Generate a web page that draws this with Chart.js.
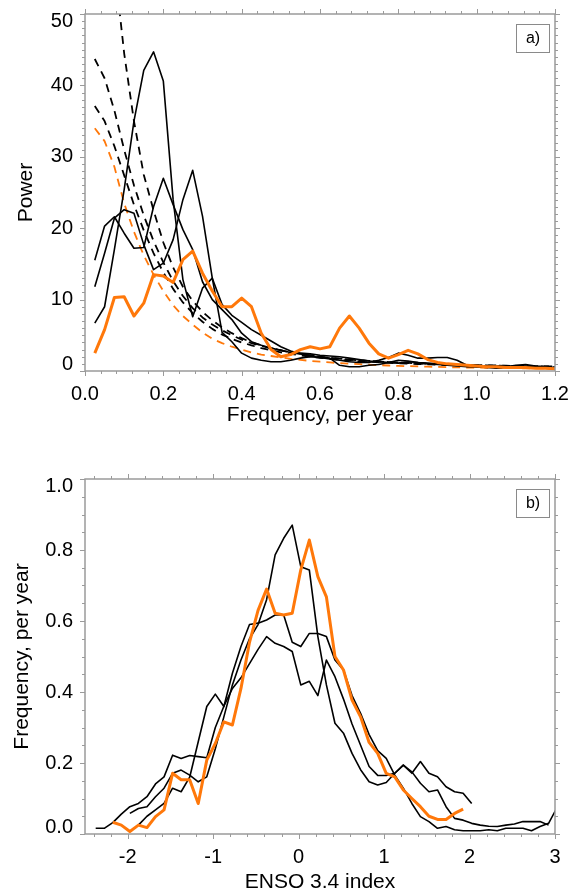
<!DOCTYPE html>
<html>
<head>
<meta charset="utf-8">
<script src="https://cdn.jsdelivr.net/npm/chart.js@4.4.1/dist/chart.umd.min.js"></script>
<style>
  body { margin: 0; background: #fff; }
  #wrap { position: relative; width: 572px; height: 896px; }
  canvas { position: absolute; left: 0; }
</style>
</head>
<body>
<div id="wrap">
  <canvas id="powerChart" width="572" height="448" style="top:0"></canvas>
  <canvas id="histChart" width="572" height="448" style="top:448px"></canvas>
</div>
<script>
// ---- panel a: power spectra ----
const freqs = [0.025, 0.05, 0.075, 0.1, 0.125, 0.15, 0.175, 0.2, 0.225, 0.25, 0.275, 0.3,
  0.325, 0.35, 0.375, 0.4, 0.425, 0.45, 0.475, 0.5, 0.525, 0.55, 0.575, 0.6,
  0.625, 0.65, 0.675, 0.7, 0.725, 0.75, 0.775, 0.8, 0.825, 0.85, 0.875, 0.9,
  0.925, 0.95, 0.975, 1.0, 1.025, 1.05, 1.075, 1.1, 1.125, 1.15, 1.175, 1.2];

const powerObs = [2.5, 5.8, 10.3, 10.4, 7.7, 9.5, 13.5, 13.3, 12.4, 15.6, 16.8, 13.7,
  11.2, 9.0, 9.0, 10.2, 9.0, 5.3, 3.0, 2.0, 2.3, 3.0, 3.4, 3.1,
  3.4, 6.0, 7.7, 6.0, 3.9, 2.4, 1.8, 2.3, 2.9, 2.4, 1.6, 1.2,
  1.0, 0.9, 0.8, 0.7, 0.6, 0.6, 0.5, 0.5, 0.5, 0.4, 0.4, 0.3];
const powerModel1 = [6.7, 9.0, 17.0, 25.4, 35.0, 42.1, 44.7, 40.6, 24.0, 12.8, 7.6, 11.6,
  13.0, 9.3, 7.8, 6.8, 5.8, 5.0, 4.2, 3.4, 2.8, 2.4, 2.1, 1.9,
  1.7, 1.5, 1.3, 1.2, 1.2, 1.5, 1.9, 2.5, 2.2, 1.8, 1.8, 1.9,
  1.9, 1.5, 0.8, 0.6, 0.6, 0.5, 0.6, 0.7, 0.7, 0.6, 0.5, 0.4];
const powerModel2 = [11.8, 16.5, 21.4, 22.6, 22.1, 17.7, 14.2, 15.1, 18.4, 24.0, 28.1, 21.7,
  13.0, 5.4, 4.1, 2.5, 1.8, 1.5, 1.3, 1.3, 1.5, 1.8, 2.0, 1.9,
  1.8, 0.8, 0.6, 0.6, 0.8, 0.9, 1.2, 1.5, 1.4, 1.2, 1.1, 1.0,
  0.9, 0.8, 0.7, 0.6, 0.5, 0.4, 0.5, 0.6, 0.5, 0.5, 0.4, 0.3];
const powerModel3 = [15.5, 20.3, 21.6, 19.3, 17.2, 17.3, 23.0, 27.0, 23.3, 19.8, 17.0, 12.5,
  10.0, 8.6, 7.2, 5.3, 4.1, 3.6, 3.2, 2.9, 2.6, 2.5, 2.4, 2.2,
  2.1, 2.0, 1.8, 1.6, 1.4, 1.3, 1.2, 1.1, 1.3, 1.2, 1.0, 0.9,
  0.8, 0.7, 0.6, 0.6, 0.7, 0.7, 0.6, 0.8, 0.9, 0.7, 0.6, 0.5];

// red-noise fits (dashed)
const noiseObs = [34.0, 32.2, 28.6, 23.5, 19.5, 16.2, 13.5, 11.2, 9.2, 7.7, 6.5, 5.4,
  4.5, 3.9, 3.4, 3.0, 2.6, 2.3, 2.1, 1.9, 1.7, 1.55, 1.42, 1.3,
  1.2, 1.1, 1.02, 0.95, 0.88, 0.82, 0.77, 0.72, 0.68, 0.64, 0.6, 0.57,
  0.54, 0.51, 0.49, 0.47, 0.45, 0.43, 0.41, 0.4, 0.38, 0.37, 0.36, 0.35];
const noiseModel1 = [82, 70, 57, 44.5, 35, 27.5, 22.5, 18, 14.5, 11.8, 9.8, 8.3,
  7.1, 6.1, 5.3, 4.6, 4.0, 3.6, 3.2, 2.9, 2.6, 2.4, 2.2, 2.0,
  1.85, 1.72, 1.6, 1.5, 1.41, 1.33, 1.26, 1.19, 1.13, 1.08, 1.03, 0.98,
  0.94, 0.9, 0.86, 0.83, 0.8, 0.77, 0.74, 0.72, 0.7, 0.68, 0.66, 0.64];
const noiseModel2 = [43.7, 41.0, 36.5, 31.0, 26.0, 21.8, 18.2, 15.2, 12.6, 10.5, 8.8, 7.5,
  6.5, 5.7, 5.0, 4.4, 3.9, 3.5, 3.2, 2.9, 2.6, 2.4, 2.2, 2.0,
  1.85, 1.72, 1.6, 1.5, 1.4, 1.32, 1.25, 1.18, 1.12, 1.06, 1.01, 0.96,
  0.92, 0.88, 0.84, 0.81, 0.78, 0.75, 0.72, 0.7, 0.68, 0.66, 0.64, 0.62];
const noiseModel3 = [37.1, 35.0, 31.5, 27.4, 23.3, 19.7, 16.5, 13.8, 11.5, 9.6, 8.1, 6.9,
  5.9, 5.1, 4.5, 4.0, 3.6, 3.2, 2.9, 2.6, 2.4, 2.2, 2.0, 1.85,
  1.7, 1.58, 1.47, 1.37, 1.29, 1.21, 1.14, 1.08, 1.02, 0.97, 0.92, 0.88,
  0.84, 0.8, 0.77, 0.74, 0.71, 0.68, 0.66, 0.64, 0.62, 0.6, 0.58, 0.56];

const freqTicks = [0, 0.2, 0.4, 0.6, 0.8, 1.0, 1.2];
const powerTicks = [0, 10, 20, 30, 40, 50];

// ---- panel b: ENSO 3.4 distributions ----
const ensoBins = [-2.375, -2.275, -2.175, -2.075, -1.975, -1.875, -1.775, -1.675, -1.575, -1.475,
  -1.375, -1.275, -1.175, -1.075, -0.975, -0.875, -0.775, -0.675, -0.575, -0.475,
  -0.375, -0.275, -0.175, -0.075, 0.025, 0.125, 0.225, 0.325, 0.425, 0.525,
  0.625, 0.725, 0.825, 0.925, 1.025, 1.125, 1.225, 1.325, 1.425, 1.525,
  1.625, 1.725, 1.825, 1.925, 2.025, 2.125, 2.225, 2.325, 2.425, 2.525,
  2.625, 2.725, 2.825, 2.925, 3.025];

const ensoObs = [null, null, 0.033, 0.025, 0.007, 0.025, 0.018, 0.049, 0.068, 0.171,
  0.153, 0.153, 0.086, 0.208, 0.255, 0.316, 0.307, 0.41, 0.54, 0.63,
  0.69, 0.622, 0.617, 0.622, 0.744, 0.828, 0.725, 0.668, 0.50, 0.462,
  0.377, 0.33, 0.258, 0.227, 0.171, 0.161, 0.124, 0.100, 0.077, 0.050,
  0.041, 0.041, 0.058, 0.070, null, null, null, null, null, null,
  null, null, null, null, null];
const ensoModel1 = [0.016, 0.016, 0.032, 0.056, 0.077, 0.086, 0.105, 0.141, 0.161, 0.222,
  0.213, 0.221, 0.218, 0.215, 0.30, 0.36, 0.41, 0.44, 0.48, 0.52,
  0.556, 0.537, 0.528, 0.514, 0.42, 0.43, 0.39, 0.49, 0.443, 0.38,
  0.31, 0.25, 0.19, 0.165, 0.165, 0.171, 0.194, 0.175, 0.143, 0.119,
  0.124, 0.077, 0.044, 0.039, 0.03, 0.025, 0.022, 0.021, 0.025, 0.028,
  0.035, 0.035, 0.035, 0.025, null];
const ensoModel2 = [null, null, null, null, 0.058, 0.072, 0.077, 0.105, 0.129, 0.171,
  0.180, 0.166, 0.147, 0.161, 0.24, 0.33, 0.42, 0.49, 0.55, 0.59,
  0.66, 0.786, 0.833, 0.870, 0.753, 0.744, 0.556, 0.42, 0.312, 0.284,
  0.227, 0.181, 0.147, 0.138, 0.145, 0.171, 0.194, 0.171, 0.204, 0.171,
  0.161, 0.133, 0.119, 0.115, 0.086, null, null, null, null, null,
  null, null, null, null, null];
const ensoModel3 = [null, null, null, null, null, 0.025, 0.05, 0.068, 0.086, 0.129,
  0.119, 0.16, 0.26, 0.359, 0.394, 0.359, 0.453, 0.528, 0.590, 0.594,
  0.603, 0.617, 0.617, 0.54, 0.528, 0.565, 0.565, 0.556, 0.49, 0.462,
  0.39, 0.34, 0.28, 0.235, 0.213, 0.166, 0.129, 0.086, 0.049, 0.035,
  0.016, 0.021, 0.012, 0.009, 0.009, 0.009, 0.012, 0.009, 0.016, 0.016,
  0.016, 0.009, 0.021, 0.03, 0.075];

const ensoTicks = [-2, -1, 0, 1, 2, 3];
const densityTicks = [0, 0.2, 0.4, 0.6, 0.8, 1.0];

const ORANGE = 'rgb(255,120,10)';
const FONT = '"Liberation Sans", Arial, Helvetica, sans-serif';

const pairUp = (xs, ys) => xs.map((x, i) => ({ x: x, y: ys[i] })).filter(p => p.y !== null);

const lineSet = (xs, ys, color, width, dashed) => ({
  data: pairUp(xs, ys),
  borderColor: color,
  borderWidth: width,
  borderDash: dashed ? [8, 6] : [],
  borderJoinStyle: 'round',
  pointRadius: 0,
  tension: 0,
  fill: false,
  clip: 0
});

// IDL-like frame: gray box, outward ticks on all sides, y labels kept inside the box
const framePlugin = {
  id: 'frame',
  afterDraw(chart, args, o) {
    const { ctx, chartArea: a } = chart;
    const xs = chart.scales.x, ys = chart.scales.y;
    ctx.save();
    ctx.strokeStyle = '#9a9a9a';
    ctx.lineWidth = 1;

    const near = (list, v) => list.some(t => Math.abs(t - v) < 1e-6);

    let i0 = Math.ceil((xs.min - 1e-9) / o.minorX);
    for (let i = i0; i * o.minorX <= xs.max + 1e-9; i++) {
      const v = i * o.minorX;
      const px = Math.round(xs.getPixelForValue(v)) + 0.5;
      const len = near(o.majorX, v) ? 5 : 3;
      ctx.beginPath();
      ctx.moveTo(px, a.bottom); ctx.lineTo(px, a.bottom + len);
      ctx.moveTo(px, a.top); ctx.lineTo(px, a.top - len);
      ctx.stroke();
    }
    i0 = Math.ceil((ys.min - 1e-9) / o.minorY);
    for (let i = i0; i * o.minorY <= ys.max + 1e-9; i++) {
      const v = i * o.minorY;
      const py = Math.round(ys.getPixelForValue(v)) + 0.5;
      const len = near(o.majorY, v) ? 5 : 3;
      ctx.beginPath();
      ctx.moveTo(a.left, py); ctx.lineTo(a.left - len, py);
      ctx.moveTo(a.right, py); ctx.lineTo(a.right + len, py);
      ctx.stroke();
    }

    ctx.lineWidth = 1.5;
    ctx.strokeRect(a.left, a.top, a.right - a.left, a.bottom - a.top);

    // y tick labels
    ctx.fillStyle = '#000';
    ctx.font = '20px ' + FONT;
    ctx.textAlign = 'right';
    ctx.textBaseline = 'middle';
    o.majorY.forEach(v => {
      const py = ys.getPixelForValue(v);
      const cy = Math.min(Math.max(py, a.top + 7), a.bottom - 7);
      ctx.fillText(o.fmtY(v), a.left - 12, cy);
    });

    // panel tag
    const bw = 33, bh = 28;
    const bx = a.right - 39, by = a.top + 10;
    ctx.fillStyle = '#fff';
    ctx.fillRect(bx, by, bw, bh);
    ctx.strokeStyle = '#8a8a8a';
    ctx.lineWidth = 1;
    ctx.strokeRect(bx + 0.5, by + 0.5, bw, bh);
    ctx.fillStyle = '#000';
    ctx.font = '16px ' + FONT;
    ctx.textAlign = 'center';
    ctx.fillText(o.tag, bx + bw / 2 + 0.5, by + bh / 2 + 1);
    ctx.restore();
  }
};

function makeChart(id, c) {
  return new Chart(document.getElementById(id), {
    type: 'line',
    data: { datasets: c.datasets },
    plugins: [framePlugin],
    options: {
      responsive: false,
      animation: false,
      layout: { padding: { left: 0, right: 17, top: c.top, bottom: 0 } },
      plugins: {
        legend: { display: false },
        tooltip: { enabled: false },
        frame: c.frame
      },
      scales: {
        x: {
          type: 'linear',
          min: c.xMin,
          max: c.xMax,
          grid: { display: false, drawTicks: false },
          border: { display: false },
          afterBuildTicks: s => { s.ticks = c.xTicks.map(v => ({ value: v })); },
          afterFit: s => { s.height = c.xHeight; s.paddingLeft = 0; s.paddingRight = 0; },
          ticks: {
            color: '#000',
            padding: 11.5,
            maxRotation: 0,
            autoSkip: false,
            font: { family: FONT, size: 20 },
            callback: c.fmtX
          },
          title: {
            display: true,
            text: c.xTitle,
            color: '#000',
            font: { family: FONT, size: 21 },
            padding: { top: 0, bottom: c.xTitlePad }
          }
        },
        y: {
          type: 'linear',
          min: c.yMin,
          max: c.yMax,
          grid: { display: false, drawTicks: false },
          border: { display: false },
          afterFit: s => { s.width = 85; s.paddingTop = 0; s.paddingBottom = 0; },
          ticks: { display: false },
          title: {
            display: true,
            text: c.yTitle,
            color: '#000',
            font: { family: FONT, size: 21 },
            padding: { top: c.yTitlePad, bottom: 0 }
          }
        }
      }
    }
  });
}

makeChart('powerChart', {
  top: 14,
  xHeight: 77,
  xMin: 0, xMax: 1.2,
  yMin: 0, yMax: 50,
  xTicks: freqTicks,
  fmtX: v => Number(v).toFixed(1),
  xTitle: 'Frequency, per year',
  xTitlePad: 20.4,
  yTitle: 'Power',
  yTitlePad: 13.4,
  frame: { majorX: freqTicks, minorX: 0.04, majorY: powerTicks, minorY: 1, fmtY: v => String(v), tag: 'a)' },
  datasets: [
    lineSet(freqs, powerObs, ORANGE, 3, false),
    lineSet(freqs, powerModel1, '#000', 1.6, false),
    lineSet(freqs, powerModel2, '#000', 1.6, false),
    lineSet(freqs, powerModel3, '#000', 1.6, false),
    lineSet(freqs, noiseObs, ORANGE, 1.8, true),
    lineSet(freqs, noiseModel1, '#000', 1.8, true),
    lineSet(freqs, noiseModel2, '#000', 1.8, true),
    lineSet(freqs, noiseModel3, '#000', 1.8, true)
  ]
});

makeChart('histChart', {
  top: 31,
  xHeight: 62,
  xMin: -2.5, xMax: 3,
  yMin: 0, yMax: 1,
  xTicks: ensoTicks,
  fmtX: v => String(v),
  xTitle: 'ENSO 3.4 index',
  xTitlePad: 1.4,
  yTitle: 'Frequency, per year',
  yTitlePad: 9.4,
  frame: { majorX: ensoTicks, minorX: 0.2, majorY: densityTicks, minorY: 0.05, fmtY: v => v.toFixed(1), tag: 'b)' },
  datasets: [
    lineSet(ensoBins, ensoObs, ORANGE, 3, false),
    lineSet(ensoBins, ensoModel1, '#000', 1.6, false),
    lineSet(ensoBins, ensoModel2, '#000', 1.6, false),
    lineSet(ensoBins, ensoModel3, '#000', 1.6, false)
  ]
});
</script>
</body>
</html>
